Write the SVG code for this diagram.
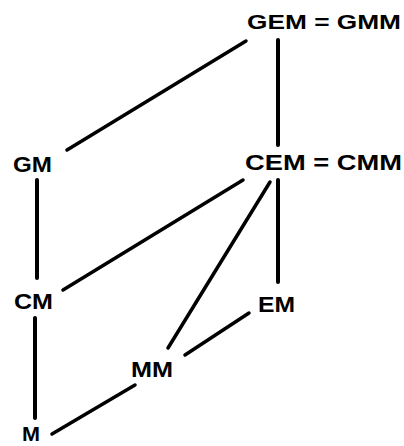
<svg xmlns="http://www.w3.org/2000/svg" width="404" height="446" viewBox="0 0 404 446">
<style>
.lbl{font-family:"Liberation Sans",Arial,sans-serif;font-weight:bold;font-size:22px;fill:#000}
.e{stroke:#000;stroke-width:3.5;stroke-linecap:round;fill:none}
.v{stroke-width:4}
</style>
<rect width="404" height="446" fill="#fff"/>
<g id="connectors">
<line class="e" x1="246" y1="41" x2="67" y2="150"/>
<line class="e v" x1="278" y1="40" x2="278" y2="145"/>
<line class="e v" x1="37" y1="180" x2="37" y2="278"/>
<line class="e" x1="243" y1="180" x2="63" y2="290"/>
<line class="e" x1="270" y1="182" x2="168" y2="348"/>
<line class="e v" x1="278" y1="180" x2="278" y2="282"/>
<line class="e" x1="249" y1="313" x2="185" y2="355"/>
<line class="e v" x1="35" y1="318" x2="35" y2="418"/>
<line class="e" x1="135" y1="385" x2="52" y2="434"/>
</g>
<g id="GEM"><text class="lbl" x="247" y="29" textLength="154" lengthAdjust="spacingAndGlyphs" style="font-size:20px">GEM = GMM</text></g>
<g id="GM"><text class="lbl" x="13" y="172" textLength="39" lengthAdjust="spacingAndGlyphs">GM</text></g>
<g id="CEM"><text class="lbl" x="245" y="170" textLength="157" lengthAdjust="spacingAndGlyphs">CEM = CMM</text></g>
<g id="CM"><text class="lbl" x="14" y="309" textLength="39" lengthAdjust="spacingAndGlyphs">CM</text></g>
<g id="EM"><text class="lbl" x="258" y="312" textLength="37" lengthAdjust="spacingAndGlyphs">EM</text></g>
<g id="MM"><text class="lbl" x="131" y="377" textLength="42" lengthAdjust="spacingAndGlyphs">MM</text></g>
<g id="M"><text class="lbl" x="22" y="441" textLength="18" lengthAdjust="spacingAndGlyphs" style="font-size:20px">M</text></g>
</svg>
